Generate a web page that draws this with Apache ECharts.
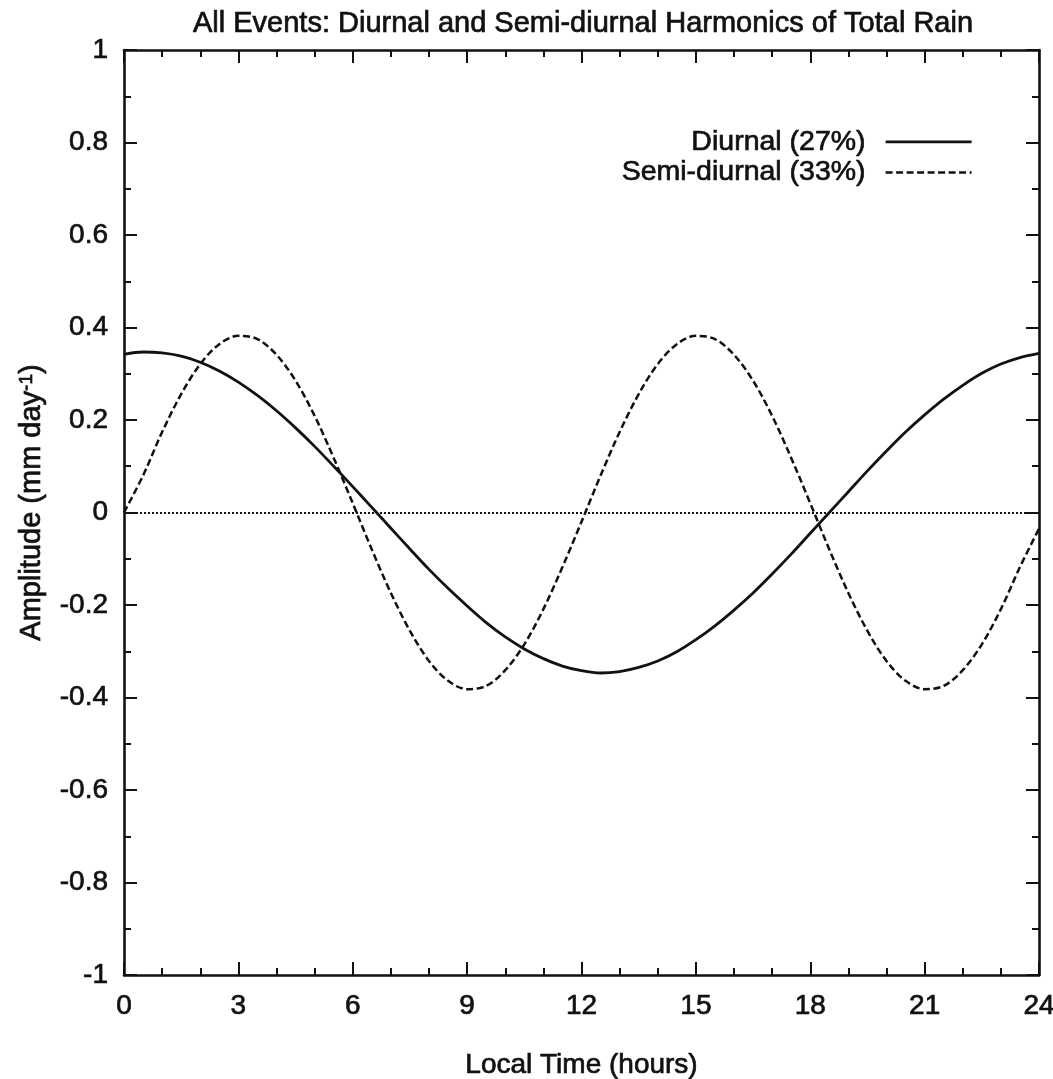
<!DOCTYPE html>
<html>
<head>
<meta charset="utf-8">
<title>All Events: Diurnal and Semi-diurnal Harmonics of Total Rain</title>
<script src="https://cdn.jsdelivr.net/npm/echarts@6/dist/echarts.min.js"></script>
<style>
  html, body { margin: 0; padding: 0; background: #ffffff; }
  #chart { width: 1053px; height: 1079px; }
</style>
</head>
<body>
<div id="chart"></div>
<script>
// Local time of day (hours), half-hour steps
const hours = [0, 0.5, 1, 1.5, 2, 2.5, 3, 3.5, 4, 4.5, 5, 5.5, 6, 6.5, 7, 7.5, 8, 8.5, 9, 9.5, 10, 10.5, 11, 11.5, 12,
               12.5, 13, 13.5, 14, 14.5, 15, 15.5, 16, 16.5, 17, 17.5, 18, 18.5, 19, 19.5, 20, 20.5, 21, 21.5, 22, 22.5, 23, 23.5, 24];

// Diurnal harmonic of total rain (mm/day)
const diurnal = [0.342, 0.347, 0.345, 0.338, 0.325, 0.306, 0.282, 0.253, 0.220, 0.183, 0.143, 0.100, 0.056, 0.011,
                 -0.034, -0.079, -0.123, -0.164, -0.202, -0.238, -0.269, -0.295, -0.316, -0.332, -0.342,
                 -0.347, -0.344, -0.335, -0.321, -0.301, -0.275, -0.245, -0.211, -0.174, -0.133, -0.090, -0.045, 0.000,
                 0.045, 0.090, 0.133, 0.174, 0.211, 0.245, 0.275, 0.301, 0.321, 0.335, 0.344];

// Semi-diurnal harmonic of total rain (mm/day)
const semiDiurnal = [0.000, 0.080, 0.174, 0.256, 0.321, 0.364, 0.382, 0.375, 0.341, 0.285, 0.209, 0.118, 0.020,
                     -0.080, -0.174, -0.256, -0.321, -0.364, -0.382, -0.375, -0.341, -0.285, -0.209, -0.118, -0.020,
                     0.080, 0.174, 0.256, 0.321, 0.364, 0.382, 0.375, 0.341, 0.285, 0.209, 0.118, 0.020,
                     -0.080, -0.174, -0.256, -0.321, -0.364, -0.382, -0.375, -0.341, -0.285, -0.209, -0.118, -0.035];

const seriesNames = ['Diurnal (27%)', 'Semi-diurnal (33%)'];
const zeroLevel = 0;

const FONT = '"Liberation Sans", Arial, Helvetica, sans-serif';
const INK = '#111111';
// slight outline so the glyphs carry the weight of the printed labels
const textInk = { color: INK, fontFamily: FONT, textBorderColor: INK, textBorderWidth: 0.7 };

const toPairs = (xs, ys) => xs.map((x, i) => [x, ys[i]]);

const baseTick = { inside: true, length: 13, lineStyle: { color: INK, width: 2 } };
const frameLine = { show: true, onZero: false, lineStyle: { color: INK, width: 2.6 } };

function xAxisOf(pos, withLabels) {
  return {
    type: 'value', position: pos, min: 0, max: 24, interval: 3,
    axisLine: frameLine,
    axisTick: baseTick,
    minorTick: { show: true, splitNumber: 3, length: 7, lineStyle: { color: INK, width: 2 } },
    splitLine: { show: false },
    axisLabel: withLabels
      ? Object.assign({ show: true, margin: 17, fontSize: 28 }, textInk)
      : { show: false },
    name: withLabels ? 'Local Time (hours)' : '',
    nameLocation: 'middle',
    nameGap: 76,
    nameMoveOverlap: false,
    nameTextStyle: Object.assign({ fontSize: 28 }, textInk)
  };
}

function yAxisOf(pos, withLabels) {
  return {
    type: 'value', position: pos, min: -1, max: 1, interval: 0.2,
    axisLine: frameLine,
    axisTick: baseTick,
    minorTick: { show: true, splitNumber: 2, length: 7, lineStyle: { color: INK, width: 2 } },
    splitLine: { show: false },
    axisLabel: withLabels
      ? Object.assign({ show: true, margin: 16, fontSize: 28,
          formatter: v => String(Math.round(v * 10) / 10) }, textInk)
      : { show: false },
    name: withLabels ? '{a|Amplitude (mm day}{s|-1}{a|)}' : '',
    nameLocation: 'middle',
    nameRotate: 90,
    nameGap: 78,
    nameMoveOverlap: false,
    nameTextStyle: Object.assign({
      fontSize: 29,
      padding: [0, 0, 0, 20],
      rich: {
        a: Object.assign({ fontSize: 29 }, textInk),
        s: Object.assign({ fontSize: 19, verticalAlign: 'top', lineHeight: 22 }, textInk)
      }
    }, textInk)
  };
}

const chart = echarts.init(document.getElementById('chart'), null, { renderer: 'canvas' });

chart.setOption({
  animation: false,
  backgroundColor: '#ffffff',
  title: {
    text: 'All Events: Diurnal and Semi-diurnal Harmonics of Total Rain',
    left: 583, top: 9, padding: 0, textAlign: 'center',
    textStyle: Object.assign({ fontSize: 29, fontWeight: 'normal' }, textInk)
  },
  grid: { left: 124, right: 14, top: 50, bottom: 104, containLabel: false, outerBoundsMode: 'none' },
  legend: {
    data: seriesNames,
    orient: 'vertical', align: 'right',
    right: 80, top: 127, padding: 0, itemGap: 1,
    itemWidth: 86, itemHeight: 14,
    selectedMode: false,
    // line-only keys: the marker dot is made fully transparent
    itemStyle: { opacity: 0 },
    lineStyle: { width: 'inherit', type: 'inherit', color: 'inherit' },
    textStyle: Object.assign({ fontSize: 28.5, padding: [0, 15, 0, 0] }, textInk)
  },
  xAxis: [xAxisOf('bottom', true), xAxisOf('top', false)],
  yAxis: [yAxisOf('left', true), yAxisOf('right', false)],
  series: [
    {
      name: seriesNames[0], type: 'line', xAxisIndex: 0, yAxisIndex: 0,
      data: toPairs(hours, diurnal),
      smooth: 0.33, symbol: 'none', showSymbol: false, silent: true,
      lineStyle: { color: INK, width: 2.8 },
      itemStyle: { color: INK },
      markLine: {
        silent: true, symbol: 'none', label: { show: false },
        lineStyle: { color: INK, width: 2, type: [2, 2] },
        data: [{ yAxis: zeroLevel }]
      }
    },
    {
      name: seriesNames[1], type: 'line', xAxisIndex: 0, yAxisIndex: 0,
      data: toPairs(hours, semiDiurnal),
      smooth: 0.33, symbol: 'none', showSymbol: false, silent: true,
      lineStyle: { color: INK, width: 2.5, type: [7, 3.5] },
      itemStyle: { color: INK }
    }
  ]
});
</script>
</body>
</html>
